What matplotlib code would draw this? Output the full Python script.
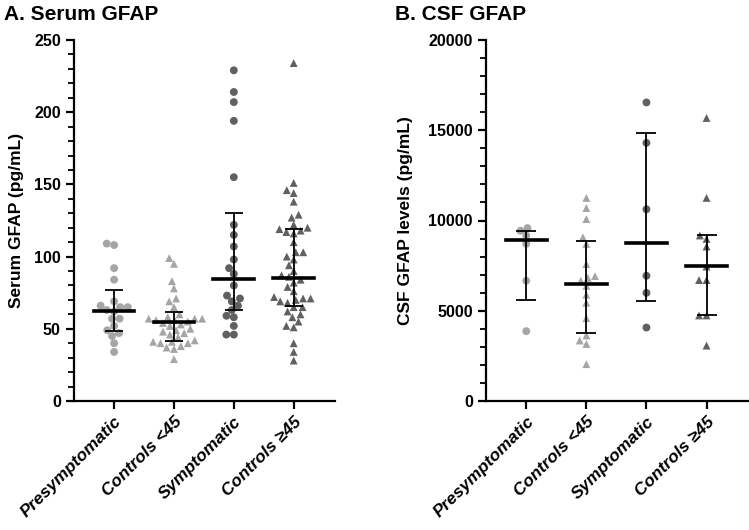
import numpy as np
import matplotlib
matplotlib.use("Agg")
import matplotlib.pyplot as plt
from matplotlib.ticker import MultipleLocator

plt.rcParams['font.family'] = ['Liberation Sans', 'DejaVu Sans']

groups = ["Presymptomatic", "Controls <45", "Symptomatic", "Controls \u226545"]
colors = ["#a5a5a5", "#a5a5a5", "#606060", "#606060"]
markers = ["o", "^", "o", "^"]

# Panel A: serum GFAP (pg/mL)
serum_pre = [109, 108, 92, 84, 69, 66, 65, 65, 63, 62, 57, 57, 52, 49, 47, 45, 40, 34]
serum_ctl_young = [99, 95, 83, 78, 71, 69, 65, 60, 58, 57, 57, 57, 56, 56, 55, 54, 53,
                   52, 50, 49, 48, 47, 46, 44, 42, 41, 41, 40, 40, 38, 37, 36, 29]
serum_sym = [229, 214, 207, 194, 155, 122, 115, 107, 98, 92, 88, 80, 73, 71, 69, 66,
             63, 59, 58, 52, 46, 46]
serum_ctl_old = [234, 151, 146, 144, 138, 129, 127, 122, 120, 119, 118, 117, 116, 110,
                 103, 103, 100, 98, 94, 90, 87, 86, 84, 82, 79, 76, 72, 71, 71, 70, 69,
                 68, 65, 65, 62, 60, 58, 55, 52, 51, 40, 34, 28]
serum_median = [62.5, 54.5, 84.5, 85]
serum_q1 = [48.6, 41.8, 63, 66]
serum_q3 = [76.6, 61.8, 130, 119]

# Panel B: CSF GFAP (pg/mL)
csf_pre = [9580, 9430, 9170, 8710, 6660, 3870]
csf_ctl_young = [11250, 10690, 10080, 9070, 8700, 7590, 6920, 6820, 6660, 6380, 5890,
                 5450, 4590, 3630, 3350, 3160, 2040]
csf_sym = [16540, 14300, 10620, 6940, 5990, 4070]
csf_ctl_old = [15680, 11250, 9170, 8980, 8560, 7450, 6700, 6700, 4740, 4740, 3070]
csf_median = [8930, 6507, 8778, 7478]
csf_q1 = [5580, 3772, 5525, 4777]
csf_q3 = [9430, 8873, 14844, 9169]


def swarm_offsets(ypix, d):
    # simple beeswarm: place each point at the smallest |x| that does not overlap
    order = np.argsort(ypix)
    placed = []
    xs = np.zeros(len(ypix))
    for i in order:
        y = ypix[i]
        near = [(px, py) for px, py in placed if abs(py - y) < d]
        cands = [0.0]
        for px, py in near:
            dx = np.sqrt(d ** 2 - (py - y) ** 2)
            cands += [px + dx, px - dx]
        cands.sort(key=lambda c: (abs(c), c))
        for c in cands:
            if all((c - px) ** 2 + (y - py) ** 2 >= d ** 2 - 1e-6 for px, py in near):
                xs[i] = c
                break
        placed.append((xs[i], y))
    return xs


def draw_panel(ax, data, med, q1, q3, ymax, major, minor, ylabel, cap):
    ax.set_xlim(-0.67, 3.69)
    ax.set_ylim(0, ymax)
    fig.canvas.draw()
    px_per_x = ax.transData.transform((1, 0))[0] - ax.transData.transform((0, 0))[0]
    for i, vals in enumerate(data):
        vals = np.array(vals, dtype=float)
        ypix = ax.transData.transform(np.column_stack([np.zeros(len(vals)), vals]))[:, 1]
        off = swarm_offsets(ypix, 7.5) / px_per_x
        ax.scatter(i + off, vals, s=32, marker=markers[i], color=colors[i],
                   edgecolors='none', zorder=2)
        ax.errorbar(i, med[i], yerr=[[med[i] - q1[i]], [q3[i] - med[i]]], fmt='none',
                    ecolor='black', elinewidth=1.3, capsize=cap, capthick=1.3, zorder=3)
        ax.plot([i - 0.34, i + 0.34], [med[i], med[i]], color='black', lw=2.6, zorder=4)
    for s in ['top', 'right']:
        ax.spines[s].set_visible(False)
    for s in ['left', 'bottom']:
        ax.spines[s].set_linewidth(1.6)
    ax.yaxis.set_major_locator(MultipleLocator(major))
    ax.yaxis.set_minor_locator(MultipleLocator(minor))
    ax.tick_params(axis='y', which='major', length=6, width=1.6, labelsize=11.5)
    ax.tick_params(axis='y', which='minor', length=4, width=1.3)
    ax.tick_params(axis='x', length=6, width=1.6)
    ax.set_xticks(range(4))
    ax.set_xticklabels(groups, rotation=45, ha='right', rotation_mode='anchor',
                       fontsize=12.5, fontweight='bold', fontstyle='italic')
    for lab in ax.get_yticklabels():
        lab.set_fontweight('bold')
    ax.set_ylabel(ylabel, fontsize=12.5, fontweight='bold')


fig = plt.figure(figsize=(7.49, 5.30), dpi=100)
axA = fig.add_axes([74 / 749, 1 - 401 / 530, 261 / 749, 361 / 530])
axB = fig.add_axes([486 / 749, 1 - 401 / 530, 262 / 749, 361 / 530])

draw_panel(axA, [serum_pre, serum_ctl_young, serum_sym, serum_ctl_old],
           serum_median, serum_q1, serum_q3, 250, 50, 10, "Serum GFAP (pg/mL)", 6.5)
draw_panel(axB, [csf_pre, csf_ctl_young, csf_sym, csf_ctl_old],
           csf_median, csf_q1, csf_q3, 20000, 5000, 1000, "CSF GFAP levels (pg/mL)", 7)
axA.yaxis.set_label_coords(-0.19, 0.5)
axB.yaxis.set_label_coords(-0.28, 0.5)

fig.text(4 / 749, 1 - 15 / 530, "A. Serum GFAP", fontsize=15, fontweight='bold', va='center')
fig.text(395 / 749, 1 - 15 / 530, "B. CSF GFAP", fontsize=15, fontweight='bold', va='center')

fig.savefig("out.png", dpi=100)
